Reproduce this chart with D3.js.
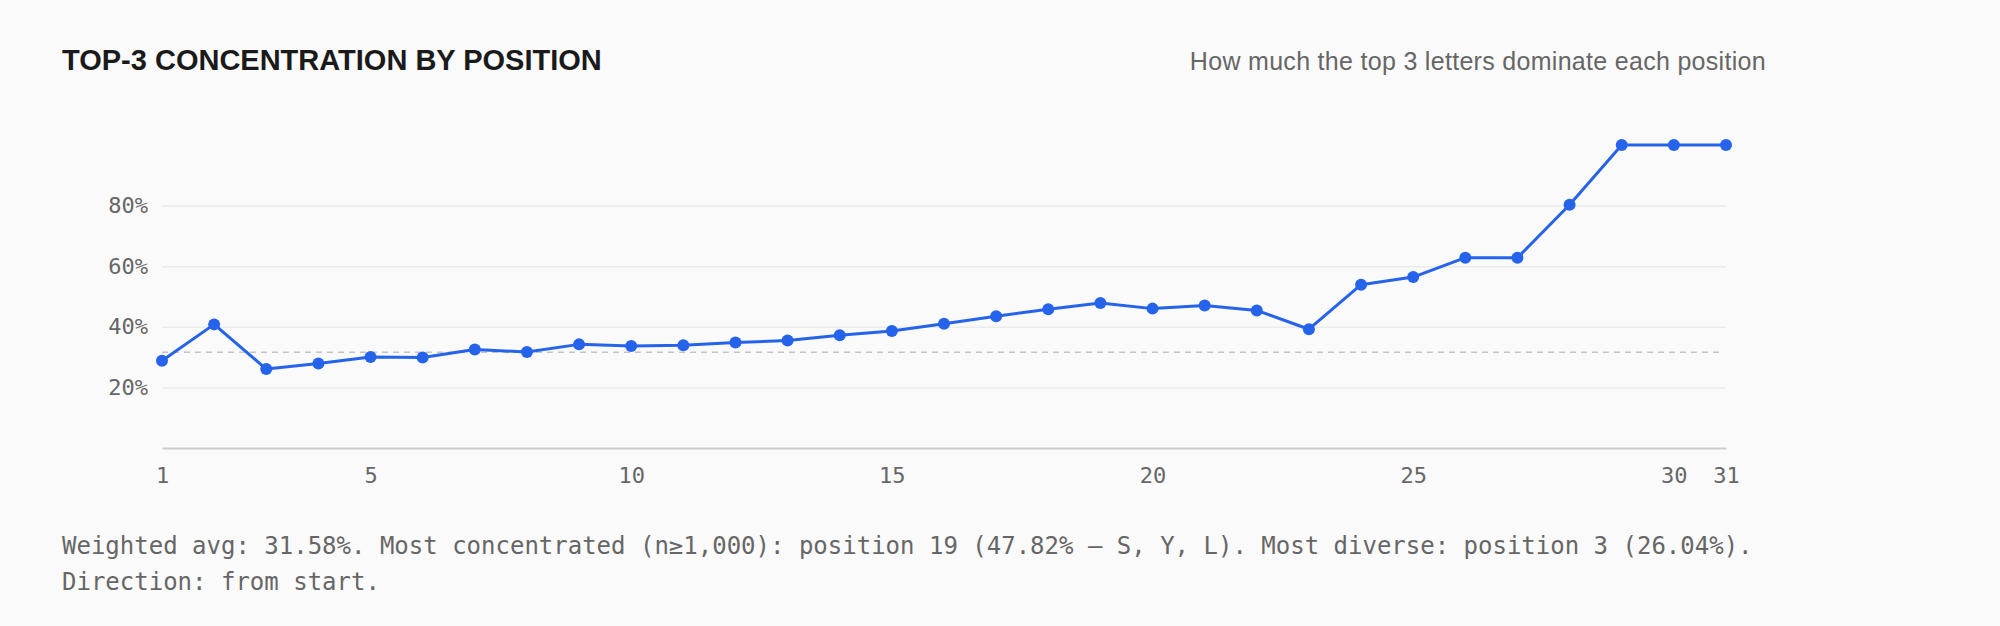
<!DOCTYPE html>
<html>
<head>
<meta charset="utf-8">
<script src="https://cdn.jsdelivr.net/npm/d3@7"></script>
<style>
  html, body { margin: 0; padding: 0; background: #fafafa; }
  svg { display: block; }
</style>
</head>
<body>
<svg id="chart" width="2000" height="626"></svg>
<script>
// ---- data ----
const positions = [1,2,3,4,5,6,7,8,9,10,11,12,13,14,15,16,17,18,19,20,21,22,23,24,25,26,27,28,29,30,31];
const top3Share = [28.8,40.8,26.04,27.9,30.0,29.9,32.5,31.7,34.2,33.7,33.9,34.8,35.5,37.2,38.6,41.0,43.5,45.8,47.82,46.0,47.0,45.4,39.2,53.9,56.4,62.8,62.8,80.3,100,100,100];
const weightedAvg = 31.58;
const xTickValues = [1,5,10,15,20,25,30,31];
const yTickValues = [20,40,60,80];
const titleText = "TOP-3 CONCENTRATION BY POSITION";
const subtitleText = "How much the top 3 letters dominate each position";
const footerLines = [
  "Weighted avg: 31.58%. Most concentrated (n\u22651,000): position 19 (47.82% \u2014 S, Y, L). Most diverse: position 3 (26.04%).",
  "Direction: from start."
];

(function () {
// ---- layout ----
const svg = d3.select("#chart");
const plotLeft = 162, plotRight = 1726, plotTop = 145, plotBottom = 448;
const mono = "'DejaVu Sans Mono', monospace";
const sans = "'Liberation Sans', Arial, sans-serif";

svg.append("rect").attr("width", 2000).attr("height", 626).attr("fill", "#fafafa");

const x = d3.scaleLinear().domain([1, 31]).range([plotLeft, plotRight]);
const y = d3.scaleLinear().domain([0, 100]).range([plotBottom, plotTop]);

// title & subtitle
svg.append("text").attr("x", 62).attr("y", 70)
  .attr("font-family", sans).attr("font-weight", "bold").attr("font-size", 29)
  .attr("fill", "#1a1a1a").text(titleText);
svg.append("text").attr("x", 1766).attr("y", 70).attr("text-anchor", "end")
  .attr("font-family", sans).attr("font-size", 25).attr("letter-spacing", 0.3)
  .attr("fill", "#666").text(subtitleText);

// y grid + labels
const yAxis = svg.append("g").attr("transform", `translate(${plotLeft},0)`)
  .call(d3.axisLeft(y).tickValues(yTickValues).tickSize(-(plotRight - plotLeft)).tickPadding(14)
    .tickFormat(d => d + "%"));
yAxis.select(".domain").remove();
yAxis.selectAll(".tick line").attr("stroke", "#ebebeb").attr("stroke-width", 1.5);
yAxis.selectAll(".tick text").attr("font-family", mono).attr("font-size", 22).attr("fill", "#666");

// x axis
const xAxis = svg.append("g").attr("transform", `translate(0,${plotBottom})`)
  .call(d3.axisBottom(x).tickValues(xTickValues).tickSize(0).tickPadding(19).tickFormat(d3.format("d")));
xAxis.select(".domain").attr("stroke", "#cccccc").attr("stroke-width", 2);
xAxis.selectAll(".tick text").attr("font-family", mono).attr("font-size", 22).attr("fill", "#666");

// average dashed line
svg.append("line")
  .attr("x1", x(1)).attr("x2", x(31) - 5)
  .attr("y1", y(weightedAvg)).attr("y2", y(weightedAvg))
  .attr("stroke", "#c4c4c4").attr("stroke-width", 1.5).attr("stroke-dasharray", "6,5");

// line
const data = positions.map((p, i) => ({ p, v: top3Share[i] }));
svg.append("path").datum(data)
  .attr("fill", "none").attr("stroke", "#2563eb").attr("stroke-width", 3)
  .attr("stroke-linejoin", "round")
  .attr("d", d3.line().x(d => x(d.p)).y(d => y(d.v)));

svg.append("g").selectAll("circle").data(data).join("circle")
  .attr("cx", d => x(d.p)).attr("cy", d => y(d.v)).attr("r", 6)
  .attr("fill", "#2563eb");

// footer
svg.append("g").selectAll("text").data(footerLines).join("text")
  .attr("x", 62).attr("y", (d, i) => 554 + i * 36)
  .attr("font-family", mono).attr("font-size", 24).attr("fill", "#666")
  .text(d => d);
})();
</script>
</body>
</html>
